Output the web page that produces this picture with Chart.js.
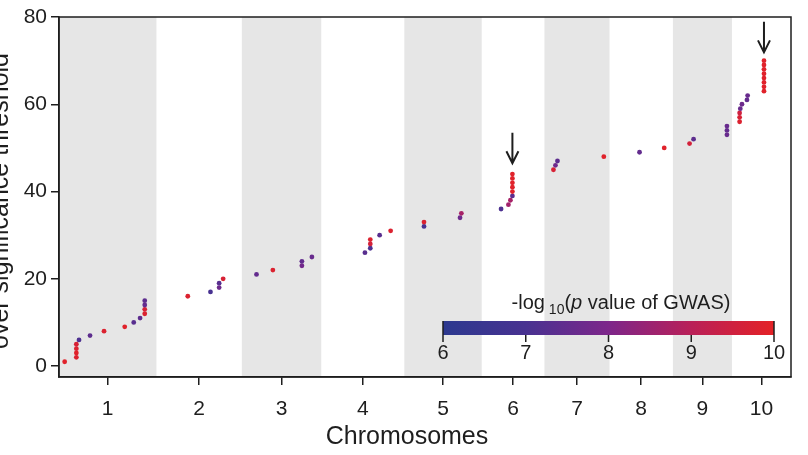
<!DOCTYPE html>
<html>
<head>
<meta charset="utf-8">
<script src="https://cdn.jsdelivr.net/npm/chart.js@4.4.1/dist/chart.umd.min.js"></script>
<style>
  html, body { margin: 0; padding: 0; background: #fff; }
  #gwas { display: block; }
</style>
</head>
<body>
<canvas id="gwas" width="808" height="455"></canvas>
<script>
// chromosomes and their (approximate) lengths in Mb
var chromNames = ['1', '2', '3', '4', '5', '6', '7', '8', '9', '10'];
var chromLengths = [292, 256, 238, 249, 232, 188, 195, 190, 177, 177];

// significant loci: chromosome, position (Mb), cumulative count, -log10 p
var lociChrom = [1, 1, 1, 1, 1, 1, 1, 1, 1, 1, 1, 1, 1, 1, 1,
    2, 2, 2, 2, 2,
    3, 3, 3, 3, 3,
    4, 4, 4, 4, 4, 4,
    5, 5, 5, 5,
    6, 6, 6, 6, 6, 6, 6, 6, 6,
    7, 7, 7, 7,
    8, 8,
    9, 9, 9, 9, 9,
    10, 10, 10, 10, 10, 10, 10, 10, 10, 10, 10, 10, 10, 10, 10];
var lociPos = [17, 52, 52, 52, 52, 60, 93, 135, 197, 224, 243, 257, 257, 257, 257,
    94, 162, 188, 188, 200,
    44, 93, 180, 180, 210,
    131, 147, 147, 147, 175, 208,
    59, 59, 167, 171,
    58, 80, 86, 92, 92, 92, 92, 92, 92,
    27, 33, 39, 178,
    90, 164,
    50, 62, 162, 162, 162,
    23, 23, 23, 25, 30, 45, 47, 96, 96, 96, 96, 96, 96, 96, 96];
var lociCount = [1, 2, 3, 4, 5, 6, 7, 8, 9, 10, 11, 12, 13, 14, 15,
    16, 17, 18, 19, 20,
    21, 22, 23, 24, 25,
    26, 27, 28, 29, 30, 31,
    32, 33, 34, 35,
    36, 37, 38, 39, 40, 41, 42, 43, 44,
    45, 46, 47, 48,
    49, 50,
    51, 52, 53, 54, 55,
    56, 57, 58, 59, 60, 61, 62, 63, 64, 65, 66, 67, 68, 69, 70];
var lociLogP = [9.9, 9.8, 9.9, 9.8, 9.7, 7.1, 7.4, 9.8, 9.9, 7.3, 7.4, 9.8, 9.7, 7.5, 7.4,
    9.8, 7.0, 7.7, 7.3, 9.7,
    7.5, 9.8, 7.8, 7.5, 7.6,
    7.3, 7.1, 9.6, 9.8, 7.3, 9.8,
    7.0, 9.8, 7.7, 8.7,
    7.1, 8.6, 8.7, 7.4, 9.9, 9.9, 9.9, 9.9, 9.9,
    9.7, 7.7, 7.4, 9.9,
    7.5, 9.9,
    9.6, 7.4, 7.6, 7.5, 7.6,
    9.8, 9.7, 9.5, 7.6, 7.7, 7.5, 7.6, 9.9, 9.9, 9.9, 9.9, 9.9, 9.9, 9.9, 9.9];

var yTicks = [0, 20, 40, 60, 80];
var colorTicks = [6, 7, 8, 9, 10];

// arrows marking the two peaks
var arrowChrom = [6, 10];
var arrowPos = [92, 96];
var arrowFrom = [53.5, 78.9];
var arrowTo = [46.5, 71.9];

var fontFamily = "'Liberation Sans', Arial, Helvetica, sans-serif";
var ink = '#1e1e1e';

// colour map of the colour bar (6 -> 10)
var cmapStops = [[44, 57, 143], [72, 50, 145], [125, 38, 138], [185, 32, 88], [228, 34, 38]];
function pColor(v) {
    var t = Math.max(0, Math.min(3.9999, v - 6));
    var i = Math.floor(t), f = t - i;
    var a = cmapStops[i], b = cmapStops[i + 1];
    return 'rgb(' + Math.round(a[0] + (b[0] - a[0]) * f) + ',' +
        Math.round(a[1] + (b[1] - a[1]) * f) + ',' +
        Math.round(a[2] + (b[2] - a[2]) * f) + ')';
}

var chromStart = [];
var total = 0;
for (var i = 0; i < chromLengths.length; i++) {
    chromStart.push(total);
    total += chromLengths[i];
}
var chromMid = chromStart.map(function (s, i) { return s + chromLengths[i] / 2; });

var points = lociPos.map(function (p, i) {
    return { x: chromStart[lociChrom[i] - 1] + p, y: lociCount[i] };
});

var decor = {
    id: 'decor',
    beforeDraw: function (chart) {
        var ctx = chart.ctx, a = chart.chartArea, xs = chart.scales.x;
        ctx.save();
        ctx.fillStyle = '#e6e6e6';
        for (var i = 0; i < chromNames.length; i += 2) {
            var x0 = xs.getPixelForValue(chromStart[i]);
            var x1 = xs.getPixelForValue(chromStart[i] + chromLengths[i]);
            ctx.fillRect(x0, a.top, x1 - x0, a.bottom - a.top);
        }
        ctx.restore();
    },
    afterDraw: function (chart) {
        var ctx = chart.ctx, a = chart.chartArea, xs = chart.scales.x, ys = chart.scales.y;
        ctx.save();
        // frame
        ctx.strokeStyle = ink;
        ctx.lineWidth = 1.5;
        ctx.strokeRect(a.left, a.top, a.right - a.left, a.bottom - a.top);

        // arrows
        ctx.lineWidth = 2;
        for (var k = 0; k < arrowChrom.length; k++) {
            var ax = xs.getPixelForValue(chromStart[arrowChrom[k] - 1] + arrowPos[k]);
            var y0 = ys.getPixelForValue(arrowFrom[k]);
            var y1 = ys.getPixelForValue(arrowTo[k]);
            ctx.beginPath();
            ctx.moveTo(ax, y0);
            ctx.lineTo(ax, y1);
            ctx.moveTo(ax - 6, y1 - 12);
            ctx.lineTo(ax, y1);
            ctx.lineTo(ax + 6, y1 - 12);
            ctx.stroke();
        }

        // colour bar
        var cbL = 443, cbR = 774, cbT = 321, cbB = 335;
        var g = ctx.createLinearGradient(cbL, 0, cbR, 0);
        for (var s = 0; s < cmapStops.length; s++) {
            var c = cmapStops[s];
            g.addColorStop(s / (cmapStops.length - 1), 'rgb(' + c[0] + ',' + c[1] + ',' + c[2] + ')');
        }
        ctx.fillStyle = g;
        ctx.fillRect(cbL, cbT, cbR - cbL, cbB - cbT);
        ctx.strokeStyle = ink;
        ctx.lineWidth = 1.5;
        ctx.fillStyle = ink;
        ctx.font = '20px ' + fontFamily;
        ctx.textAlign = 'center';
        ctx.textBaseline = 'alphabetic';
        for (var t = 0; t < colorTicks.length; t++) {
            var tx = cbL + (cbR - cbL) * (colorTicks[t] - colorTicks[0]) / (colorTicks[colorTicks.length - 1] - colorTicks[0]);
            var top = (t === 0 || t === colorTicks.length - 1) ? cbT : cbB;
            ctx.beginPath();
            ctx.moveTo(tx, top);
            ctx.lineTo(tx, cbB + 7);
            ctx.stroke();
            ctx.fillText(String(colorTicks[t]), tx, 359);
        }

        // colour bar title: -log10(p value of GWAS)
        var parts = [
            { s: '-log', f: '20px ' + fontFamily, dy: 0 },
            { s: ' 10', f: '14px ' + fontFamily, dy: 5 },
            { s: '(', f: '20px ' + fontFamily, dy: 0 },
            { s: 'p', f: 'italic 20px ' + fontFamily, dy: 0 },
            { s: ' value of GWAS)', f: '20px ' + fontFamily, dy: 0 }
        ];
        var w = 0;
        parts.forEach(function (p) { ctx.font = p.f; p.w = ctx.measureText(p.s).width; w += p.w; });
        var px = 621 - w / 2;
        ctx.textAlign = 'left';
        parts.forEach(function (p) {
            ctx.font = p.f;
            ctx.fillText(p.s, px, 309 + p.dy);
            px += p.w;
        });

        // axis titles
        ctx.font = '25px ' + fontFamily;
        ctx.textAlign = 'center';
        ctx.fillText('Chromosomes', 407, 444);
        ctx.translate(8, 201);
        ctx.rotate(-Math.PI / 2);
        ctx.fillText('over significance threshold', 0, 0);
        ctx.restore();
    }
};

var ctx = document.getElementById('gwas').getContext('2d');
var chart = new Chart(ctx, {
    type: 'scatter',
    data: {
        datasets: [{
            label: 'Loci',
            data: points,
            pointBackgroundColor: lociLogP.map(pColor),
            pointBorderWidth: 0,
            pointRadius: 2.4,
            pointHoverRadius: 2.4
        }]
    },
    options: {
        responsive: false,
        animation: false,
        layout: { padding: { left: 0, right: 17, top: 17, bottom: 0 } },
        plugins: { legend: { display: false }, tooltip: { enabled: false } },
        scales: {
            x: {
                type: 'linear',
                min: 0,
                max: total,
                afterFit: function (scale) { scale.height = 78; },
                afterBuildTicks: function (scale) {
                    scale.ticks = chromMid.map(function (v) { return { value: v }; });
                },
                ticks: {
                    autoSkip: false,
                    maxRotation: 0,
                    padding: 12,
                    color: ink,
                    font: { family: fontFamily, size: 21 },
                    callback: function (value, index) { return chromNames[index]; }
                },
                grid: { drawOnChartArea: false, drawTicks: true, tickLength: 8, color: ink, lineWidth: 1.5 },
                border: { display: true, color: ink, width: 1.5 }
            },
            y: {
                min: -2.5,
                max: 80,
                afterFit: function (scale) { scale.width = 59; },
                afterBuildTicks: function (scale) {
                    scale.ticks = yTicks.map(function (v) { return { value: v }; });
                },
                ticks: {
                    padding: 4,
                    color: ink,
                    font: { family: fontFamily, size: 21 }
                },
                grid: { drawOnChartArea: false, drawTicks: true, tickLength: 8, color: ink, lineWidth: 1.5 },
                border: { display: true, color: ink, width: 1.5 }
            }
        }
    },
    plugins: [decor]
});
</script>
</body>
</html>
